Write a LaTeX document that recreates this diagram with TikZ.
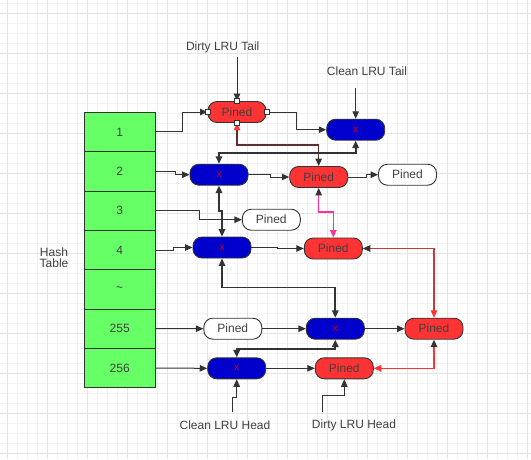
\documentclass[tikz,border=0pt]{standalone}
\usepackage{fontspec}
\setmainfont{Liberation Sans}
\usepackage{tikz}
\usetikzlibrary{arrows.meta}
\definecolor{hashgreen}{HTML}{66FF66}
\definecolor{xblue}{HTML}{0000CC}
\definecolor{pinedred}{HTML}{FF3333}
\definecolor{linegray}{HTML}{333333}
\definecolor{textgray}{HTML}{404040}
\definecolor{brownline}{HTML}{5E2F2F}
\definecolor{darkred}{HTML}{C63A3A}
\definecolor{pinkline}{HTML}{FF3399}
\definecolor{gridminor}{HTML}{F2F2F2}
\definecolor{gridmajor}{HTML}{E4E4E4}

\begin{document}
\begin{tikzpicture}[x=1pt,y=-1pt,
    every node/.style={font=\fontsize{12}{11}\selectfont,text=textgray},
    >={Triangle[length=7.5pt,width=6.5pt]},
    graytip/.tip={Triangle[length=7.5pt,width=6.5pt,color=linegray]},
    redtip/.tip={Triangle[length=7.5pt,width=6.5pt,color=pinedred]},
    pinktip/.tip={Triangle[length=7.5pt,width=6.5pt,color=pinkline]},
    pill/.style={draw=linegray,line width=0.9pt,rounded corners=9pt,minimum width=58pt,minimum height=21pt,inner sep=0pt},
    dirty/.style={pill,fill=pinedred},
    clean/.style={pill,fill=xblue,text=red!85!black,font=\fontsize{10}{10}\selectfont},
    free/.style={pill,fill=white},
    hashcell/.style={draw=linegray,line width=0.9pt,fill=hashgreen,minimum width=71pt,minimum height=39.35pt,inner sep=0pt},
    handle/.style={draw=linegray,fill=white,line width=0.7pt,minimum size=5pt,inner sep=0pt},
    link/.style={->,draw=linegray,line width=1pt},
    chain/.style={<->,draw=linegray,line width=1.8pt}]
            \fill[white] (0,0) rectangle (531,459);
            \useasboundingbox (0,0) rectangle (531,459);
            \foreach \gx in {7,17,...,527} \draw[gridminor,line width=0.7pt] (\gx,0) -- (\gx,459);
            \foreach \gy in {3,13,...,453} \draw[gridminor,line width=0.7pt] (0,\gy) -- (531,\gy);
            \foreach \gx in {7,47,...,527} \draw[gridmajor,line width=0.8pt] (\gx,0) -- (\gx,459);
            \foreach \gy in {13,53,...,453} \draw[gridmajor,line width=0.8pt] (0,\gy) -- (531,\gy);

            \node[align=center] (hashlabel) at (54,258) {Hash\\Table};
            \foreach \lab [count=\i] in {1,2,3,4,\textasciitilde,255,256}
                \node[hashcell] (h\i) at (119.7,{112.3+39.35*(\i-0.5)}) {\lab};

            \node[dirty] (dirtyA) at (237,112) {Pined};
            \node[clean] (cleanA) at (355.7,129.7) {x};
            \node[clean] (cleanB) at (219,174.7) {x};
            \node[dirty] (dirtyB) at (318.7,177) {Pined};
            \node[free] (freeA) at (407.5,174.7) {Pined};
            \node[free] (freeB) at (271.3,219.7) {Pined};
            \node[clean] (cleanC) at (222,247.5) {x};
            \node[dirty] (dirtyC) at (333.3,248.5) {Pined};
            \node[free] (freeC) at (232.8,328.7) {Pined};
            \node[clean] (cleanD) at (335.3,328.7) {x};
            \node[dirty] (dirtyD) at (434,328.7) {Pined};
            \node[clean] (cleanE) at (236.7,368.3) {x};
            \node[dirty] (dirtyE) at (344.3,368.3) {Pined};

            \node (dtail) at (222.7,47.3) {Dirty LRU Tail};
            \node (ctail) at (367,71) {Clean LRU Tail};
            \node (chead) at (225,425) {Clean LRU Head};
            \node (dhead) at (354,425) {Dirty LRU Head};
            \coordinate (dtailEnd) at (237,57);
            \coordinate (ctailEnd) at (355.7,88);
            \coordinate (cheadEnd) at (232.7,412);
            \coordinate (dheadEnd) at (322.7,412);

            \draw[link] (dtailEnd) -- (dirtyA.north);
            \draw[link] (ctailEnd) -- (cleanA.north);
            \draw[link] (cheadEnd) -- ++(0,-15) -| (cleanE.south);
            \draw[link] (dheadEnd) -- ++(0,-17) -| (dirtyE.south);

            \draw[link] (h1.east) -- ++(27,0) |- (dirtyA.west);
            \draw[link] (dirtyA.east) -- ++(30,0) |- (cleanA.west);
            \draw[{redtip}-{graytip},brownline,line width=1.2pt] (dirtyA.south) -- ++(0,22) -| (dirtyB.north);
            \draw[chain] (cleanA.south) -- ++(0,12) -| (cleanB.north);

            \draw[link] (h2.east) -- ++(20,0) |- (cleanB.west);
            \draw[link] (cleanB.east) -- ++(22,0) |- (dirtyB.west);
            \draw[link] (dirtyB.east) -- ++(18,0) |- (freeA.west);
            \draw[{graytip}-{pinktip},pinkline,line width=1.2pt] (dirtyB.south) -- ++(0,24) -| (dirtyC.north);
            \draw[chain] (cleanB.south) -- ++(0,25) -| (cleanC.north);

            \draw[link] (h3.east) -- ++(44,0) |- (freeB.west);
            \draw[link] (h4.east) -- ++(18,0) |- (cleanC.west);
            \draw[link] (cleanC.east) -- ++(26,0) |- (dirtyC.west);
            \draw[{redtip}-{graytip},darkred,line width=1.2pt] (dirtyD.north) |- (dirtyC.east);
            \draw[chain] (cleanC.south) -- ++(0,29) -| (cleanD.north);

            \draw[link] (h6.east) -- (freeC.west);
            \draw[link] (freeC.east) -- (cleanD.west);
            \draw[link] (cleanD.east) -- (dirtyD.west);
            \draw[chain] (cleanD.south) -- ++(0,9) -| (cleanE.north);

            \draw[link] (h7.east) -- (cleanE.west);
            \draw[link] (cleanE.east) -- (dirtyE.west);
            \draw[{graytip}-{redtip},pinedred,line width=1.4pt] (dirtyD.south) |- (dirtyE.east);

            \foreach \side in {north,south,east,west}
                \node[handle] (grip\side) at (dirtyA.\side) {};
        \end{tikzpicture}
\end{document}
